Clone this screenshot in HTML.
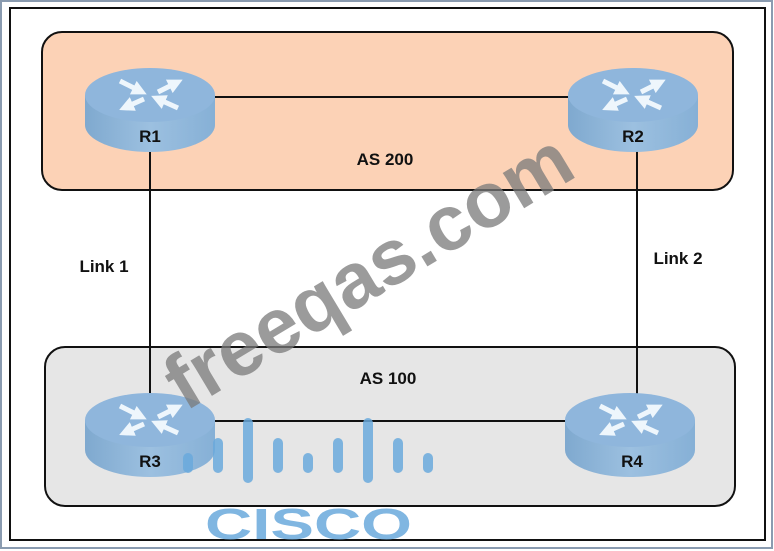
<!DOCTYPE html>
<html><head><style>
html,body{margin:0;padding:0;background:#fff;}
svg{display:block;font-family:"Liberation Sans",sans-serif;}
</style></head><body>
<svg width="774" height="551" viewBox="0 0 774 551">
<defs>
<linearGradient id="body" x1="0" x2="1" y1="0" y2="0">
<stop offset="0" stop-color="#7fa9cf"/><stop offset="0.5" stop-color="#9cc0e0"/><stop offset="1" stop-color="#86b0d6"/>
</linearGradient>
<marker id="ah" viewBox="0 0 10 10" refX="5" refY="5" markerWidth="3" markerHeight="3" orient="auto">
<path d="M0,0 L10,5 L0,10 Z" fill="#eef6fc"/>
</marker>
<g id="rt">
<path d="M-65,0 L-65,30 A65,27 0 0 0 65,30 L65,0 Z" fill="url(#body)"/>
<ellipse cx="0" cy="0" rx="65" ry="27" fill="#8fb6dc"/>
<g stroke="#eef6fc" stroke-width="5" marker-end="url(#ah)">
<line x1="-30" y1="-14" x2="-10" y2="-4"/>
<line x1="8" y1="-3" x2="26" y2="-12"/>
<line x1="-6" y1="4" x2="-24" y2="12"/>
<line x1="28" y1="13" x2="8" y2="4"/>
</g>
</g>
</defs>
<rect x="0" y="0" width="774" height="551" fill="#fff"/>
<rect x="1" y="1" width="771" height="547" fill="none" stroke="#8a9bb0" stroke-width="2"/>
<rect x="10" y="8" width="755" height="532" fill="none" stroke="#111" stroke-width="2"/>
<rect x="42" y="32" width="691" height="158" rx="20" fill="#fcd2b6" stroke="#111" stroke-width="2"/>
<rect x="45" y="347" width="690" height="159" rx="20" fill="#e6e6e6" stroke="#111" stroke-width="2"/>
<g stroke="#111" stroke-width="2">
<line x1="200" y1="97" x2="580" y2="97"/>
<line x1="150" y1="140" x2="150" y2="400"/>
<line x1="637" y1="140" x2="637" y2="400"/>
<line x1="200" y1="421" x2="580" y2="421"/>
</g>
<use href="#rt" x="150" y="95"/>
<use href="#rt" x="633" y="95"/>
<use href="#rt" x="150" y="420"/>
<use href="#rt" x="630" y="420"/>
<g font-weight="bold" font-size="17" fill="#111" text-anchor="middle">
<text x="150" y="142">R1</text>
<text x="633" y="142">R2</text>
<text x="150" y="467">R3</text>
<text x="632" y="467">R4</text>
<text x="385" y="165">AS 200</text>
<text x="388" y="384">AS 100</text>
<text x="104" y="272">Link 1</text>
<text x="678" y="264">Link 2</text>
</g>
<text x="0" y="0" transform="translate(185,412) rotate(-31)" font-size="78" font-weight="bold" fill="#7a7a7a" fill-opacity="0.75">freeqas.com</text>
<g fill="#6aa9dc" fill-opacity="0.85">
<rect x="183" y="453" width="10" height="20" rx="5"/>
<rect x="213" y="438" width="10" height="35" rx="5"/>
<rect x="243" y="418" width="10" height="65" rx="5"/>
<rect x="273" y="438" width="10" height="35" rx="5"/>
<rect x="303" y="453" width="10" height="20" rx="5"/>
<rect x="333" y="438" width="10" height="35" rx="5"/>
<rect x="363" y="418" width="10" height="65" rx="5"/>
<rect x="393" y="438" width="10" height="35" rx="5"/>
<rect x="423" y="453" width="10" height="20" rx="5"/>
</g>
<text x="205" y="539" font-size="44" font-weight="bold" fill="#6aa9dc" fill-opacity="0.85" textLength="207" lengthAdjust="spacingAndGlyphs">CISCO</text>
</svg>
</body></html>
